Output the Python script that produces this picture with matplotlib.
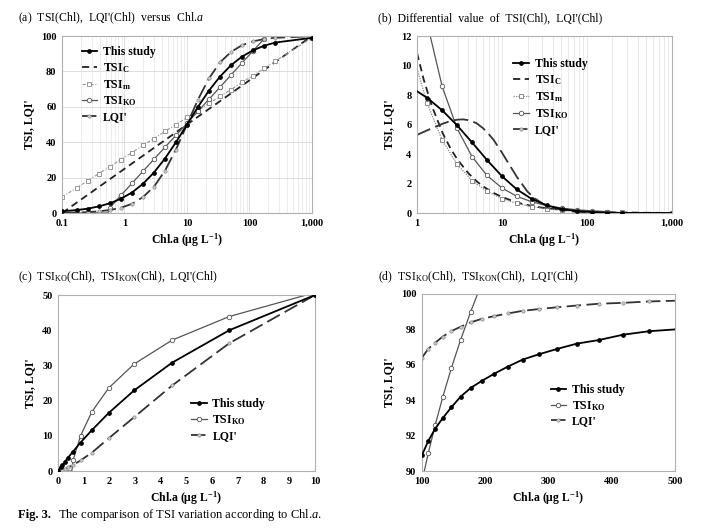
import matplotlib
matplotlib.use("Agg")
import matplotlib.pyplot as plt
from matplotlib.ticker import LogLocator, NullFormatter

plt.rcParams['font.family'] = ['Liberation Serif', 'DejaVu Serif']
plt.rcParams['mathtext.fontset'] = 'custom'
plt.rcParams['mathtext.rm'] = 'Liberation Serif'
plt.rcParams['mathtext.it'] = 'Liberation Serif:italic'
plt.rcParams['mathtext.bf'] = 'Liberation Serif:bold'

# ---- (a) TSI vs Chl.a (log axis) ----
chl_a = [0.1, 0.173, 0.26, 0.39, 0.585, 0.878, 1.317, 1.975, 2.963, 4.444, 6.667,
         10, 15, 22.5, 33.75, 50.6, 75.9, 113.9, 170.9, 256.3, 1000]
study_a = [1.0, 1.7, 2.5, 3.8, 5.5, 8.1, 11.6, 16.5, 22.9, 30.8, 40.0,
           50.0, 60.0, 69.2, 77.1, 83.5, 88.4, 91.9, 94.5, 96.3, 99.0]
tsim_a = [9.0, 14.4, 18.3, 22.3, 26.3, 30.2, 34.2, 38.2, 42.1, 46.1, 50.0,
          54.0, 57.9, 61.9, 65.9, 69.8, 73.8, 77.7, 81.7, 85.7, 99.0]
lqi_a = [0.1, 0.3, 0.5, 1.0, 1.7, 3.0, 5.2, 9.0, 14.9, 23.9, 35.9,
         50.0, 64.1, 76.1, 85.1, 91.0, 94.8, 97.0, 98.3, 99.0, 99.9]
tsic_x = [0.1, 1000]
tsic_a = [0, 100]
tsiko_x = [0.1, 0.173, 0.26, 0.39, 0.54, 0.585, 0.878, 1.317, 1.975, 2.963, 4.444,
           6.667, 10, 15, 22.5, 33.75, 50.6, 75.9, 113.9, 170.9, 187, 256.3, 1000]
tsiko_a = [0, 0, 0, 0, 0, 3.0, 10.0, 16.8, 23.6, 30.4, 37.2,
           43.9, 50.7, 57.5, 64.3, 71.1, 78.0, 84.8, 91.6, 98.4, 100, 100, 100]

# ---- (b) differential values ----
chl_b = [1, 1.317, 1.975, 2.963, 4.444, 6.667, 10, 15, 22.5, 33.75,
         50.6, 75.9, 113.9, 170.9, 256.3, 1000]
study_b = [8.26, 7.81, 6.97, 5.95, 4.79, 3.6, 2.5, 1.6, 0.95, 0.52,
           0.27, 0.14, 0.07, 0.03, 0.01, 0.0]
tsim_b = [9.8, 7.44, 4.96, 3.31, 2.2, 1.47, 0.98, 0.65, 0.44, 0.29,
          0.19, 0.13, 0.09, 0.06, 0.04, 0.01]
tsiko_bx = [1, 1.317, 1.975, 2.963, 4.444, 6.667, 10, 15, 22.5, 33.75,
            50.6, 75.9, 113.9, 170.9, 187, 256.3, 1000]
tsiko_b = [17.0, 12.9, 8.6, 5.74, 3.83, 2.55, 1.7, 1.13, 0.76, 0.5,
           0.34, 0.22, 0.15, 0.1, 0.0, 0.0, 0.0]
tsic_bx = [1, 1.2, 1.5, 2, 2.5, 3, 4, 5, 6, 8, 10, 15, 20, 30, 50, 100, 200, 500, 1000]
tsic_b = [10.86, 9.05, 7.24, 5.43, 4.34, 3.62, 2.72, 2.17, 1.81, 1.36, 1.09,
          0.72, 0.54, 0.36, 0.22, 0.11, 0.05, 0.02, 0.01]
lqi_bx = [1, 1.5, 2, 2.5, 3, 3.5, 4, 5, 6, 7, 8, 10, 12, 15, 20, 25, 30, 40,
          50, 70, 100, 200, 500, 1000]
lqi_b = [5.3, 5.75, 6.05, 6.25, 6.33, 6.35, 6.3, 6.1, 5.75, 5.35, 4.95, 4.1,
         3.35, 2.45, 1.45, 0.95, 0.65, 0.35, 0.22, 0.1, 0.05, 0.01, 0.0, 0.0]

# ---- (c) 0-10 ug/L ----
chl_c = [0, 0.1, 0.173, 0.26, 0.39, 0.585, 0.878, 1.317, 1.975, 2.963, 4.444, 6.667, 10]
study_c = [0, 1.0, 1.7, 2.5, 3.8, 5.5, 8.1, 11.6, 16.5, 22.9, 30.8, 40.0, 50.0]
lqi_c = [0, 0.1, 0.3, 0.5, 1.0, 1.7, 3.0, 5.2, 9.3, 15.3, 24.3, 36.3, 50.0]
tsiko_cx = [0, 0.1, 0.173, 0.26, 0.39, 0.54, 0.585, 0.878, 1.317, 1.975, 2.963, 4.444, 6.667, 10]
tsiko_c = [0, 0, 0, 0, 0, 0, 3.0, 10.0, 16.8, 23.6, 30.4, 37.2, 43.9, 50.7]

# ---- (d) 100-500 ug/L ----
chl_d = [100, 110, 121, 133.1, 146.4, 161.1, 177.2, 194.9, 214.4, 235.8, 259.4,
         285.3, 313.8, 345.2, 379.7, 417.7, 459.5, 500]
study_d = [90.9, 91.7, 92.4, 93.0, 93.6, 94.2, 94.7, 95.1, 95.5, 95.9, 96.3,
           96.6, 96.9, 97.2, 97.4, 97.7, 97.9, 98.0]
lqi_d = [96.4, 96.9, 97.25, 97.6, 97.9, 98.15, 98.4, 98.6, 98.75, 98.9, 99.05,
         99.15, 99.25, 99.35, 99.45, 99.5, 99.58, 99.62]
tsiko_dx = [100, 110, 121, 133.1, 146.4, 161.1, 177.2, 188, 500]
tsiko_d = [89.4, 91.0, 92.6, 94.2, 95.8, 97.4, 99.0, 100, 100]

lab_study = 'This study'
lab_c = r'TSI$_{\mathbf{C}}$'
lab_m = r'TSI$_{\mathbf{m}}$'
lab_ko = r'TSI$_{\mathbf{KO}}$'
lab_lqi = "LQI'"

st_study = dict(color='black', lw=1.3, marker='o', ms=2.4, mfc='black', mec='black')
st_c = dict(color='#222222', lw=1.3, ls=(0, (4, 2.5)))
st_m = dict(color='#999999', lw=0.8, ls=(0, (3, 1.5, 1, 1.5)), marker='s', ms=3.2, mfc='white', mec='#888888', mew=0.6)
st_m_b = dict(color='#888888', lw=0.9, ls=(0, (1, 1)), marker='s', ms=3.2, mfc='white', mec='#777777', mew=0.6)
st_ko = dict(color='#555555', lw=0.9, marker='o', ms=3.2, mfc='white', mec='#555555', mew=0.6)
st_lqi = dict(color='#333333', lw=1.3, ls=(0, (8, 3)), marker='o', ms=2.4, mfc='#cccccc', mec='#888888', mew=0.5)

fig = plt.figure(figsize=(7.02, 5.30), dpi=100)
ax_a = fig.add_axes([0.0883, 0.598, 0.3561, 0.334])
ax_b = fig.add_axes([0.594, 0.598, 0.363, 0.334])
ax_c = fig.add_axes([0.0826, 0.1113, 0.366, 0.332])
ax_d = fig.add_axes([0.601, 0.111, 0.3604, 0.3343])

xlab = r'Chl.a (μg L$^{\mathbf{-1}}$)'


def style(ax):
    for s in ax.spines.values():
        s.set_color('#b0b0b0')
        s.set_linewidth(0.8)
    ax.tick_params(which='both', length=0, pad=4, labelsize=7.5)
    for t in ax.get_xticklabels() + ax.get_yticklabels():
        t.set_fontweight('bold')
    ax.set_xlabel(xlab, fontsize=8.5, fontweight='bold', labelpad=3)
    ax.set_ylabel("TSI, LQI'", fontsize=8.5, fontweight='bold', labelpad=4)


def legend(ax, handles, anchor):
    ax.legend(handles=handles, loc='upper left', bbox_to_anchor=anchor, frameon=False,
              prop=dict(size=8.5, weight='bold'), handlelength=1.3, handletextpad=0.5,
              labelspacing=0.25, borderaxespad=0)


# (a)
ax = ax_a
ax.set_xscale('log')
h1, = ax.plot(chl_a, study_a, label=lab_study, zorder=5, **st_study)
h2, = ax.plot(tsic_x, tsic_a, label=lab_c, **st_c)
h3, = ax.plot(chl_a, tsim_a, label=lab_m, **st_m)
h4, = ax.plot(tsiko_x, tsiko_a, label=lab_ko, markevery=[0, 1, 2, 3, 5, 6, 7, 8, 9, 10, 11, 12, 13, 14, 15, 16, 17, 18, 19], **st_ko)
h5, = ax.plot(chl_a, lqi_a, label=lab_lqi, **st_lqi)
ax.set_xlim(0.1, 1000)
ax.set_ylim(0, 100)
ax.set_xticks([0.1, 1, 10, 100, 1000], ['0.1', '1', '10', '100', '1,000'])
ax.set_yticks([0, 20, 40, 60, 80, 100])
ax.xaxis.set_minor_locator(LogLocator(base=10, subs=range(2, 10)))
ax.xaxis.set_minor_formatter(NullFormatter())
ax.grid(which='major', color='#d8d8d8', lw=0.6)
ax.grid(which='minor', axis='x', color='#e4e4e4', lw=0.5)
ax.set_axisbelow(True)
style(ax)
legend(ax, [h1, h2, h3, h4, h5], (0.06, 0.97))

# (b)
ax = ax_b
ax.set_xscale('log')
h1, = ax.plot(chl_b, study_b, label=lab_study, markevery=list(range(1, 15)), zorder=5, **st_study)
h2, = ax.plot(tsic_bx, tsic_b, label=lab_c, **st_c)
h3, = ax.plot(chl_b, tsim_b, label=lab_m, markevery=list(range(1, 16)), **st_m_b)
h4, = ax.plot(tsiko_bx, tsiko_b, label=lab_ko, markevery=[2, 3, 4, 5, 6, 7, 8, 9, 10, 11, 12, 13, 15, 16], **st_ko)
h5, = ax.plot(lqi_bx, lqi_b, label=lab_lqi, markevery=[], **st_lqi)
ax.set_xlim(1, 1000)
ax.set_ylim(0, 12)
ax.set_xticks([1, 10, 100, 1000], ['1', '10', '100', '1,000'])
ax.set_yticks([0, 2, 4, 6, 8, 10, 12])
ax.xaxis.set_minor_locator(LogLocator(base=10, subs=range(2, 10)))
ax.xaxis.set_minor_formatter(NullFormatter())
ax.grid(which='both', axis='x', color='#e0e0e0', lw=0.5)
ax.set_axisbelow(True)
style(ax)
legend(ax, [h1, h2, h3, h4, h5], (0.36, 0.9))

# (c)
ax = ax_c
h1, = ax.plot(chl_c, study_c, label=lab_study, zorder=5, **st_study)
h4, = ax.plot(tsiko_cx, tsiko_c, label=lab_ko, markevery=[6, 7, 8, 9, 10, 11, 12], **st_ko)
h5, = ax.plot(chl_c, lqi_c, label=lab_lqi, **st_lqi)
ax.set_xlim(0, 10)
ax.set_ylim(0, 50)
ax.set_xticks(range(0, 11))
ax.set_yticks(range(0, 51, 10))
style(ax)
legend(ax, [h1, h4, h5], (0.5, 0.44))

# (d)
ax = ax_d
h1, = ax.plot(chl_d, study_d, label=lab_study, markevery=list(range(0, 17)), zorder=5, **st_study)
h4, = ax.plot(tsiko_dx, tsiko_d, label=lab_ko, markevery=list(range(0, 7)), **st_ko)
h5, = ax.plot(chl_d, lqi_d, label=lab_lqi, markevery=list(range(0, 17)), **st_lqi)
ax.set_xlim(100, 500)
ax.set_ylim(90, 100)
ax.set_xticks(range(100, 501, 100))
ax.set_yticks(range(90, 101, 2))
style(ax)
legend(ax, [h1, h4, h5], (0.49, 0.52))

# panel titles
fig.text(0.026, 0.965, r"(a)  TSI(Chl),  LQI'(Chl)  versus  Chl.$\mathit{a}$", fontsize=8.5, va='center')
fig.text(0.538, 0.965, r"(b)  Differential  value  of  TSI(Chl),  LQI'(Chl)", fontsize=8.5, va='center')
fig.text(0.026, 0.477, r"(c)  TSI$_{\mathrm{KO}}$(Chl),  TSI$_{\mathrm{KON}}$(Chl),  LQI'(Chl)", fontsize=8.5, va='center')
fig.text(0.538, 0.477, r"(d)  TSI$_{\mathrm{KO}}$(Chl),  TSI$_{\mathrm{KON}}$(Chl),  LQI'(Chl)", fontsize=8.5, va='center')

# caption
fig.text(0.026, 0.028, "Fig. 3.", fontsize=9, fontweight='bold', va='center')
fig.text(0.083, 0.028, r"The comparison of TSI variation according to Chl.$\mathit{a}$.", fontsize=9, va='center')

fig.savefig('out.png', dpi=100)
